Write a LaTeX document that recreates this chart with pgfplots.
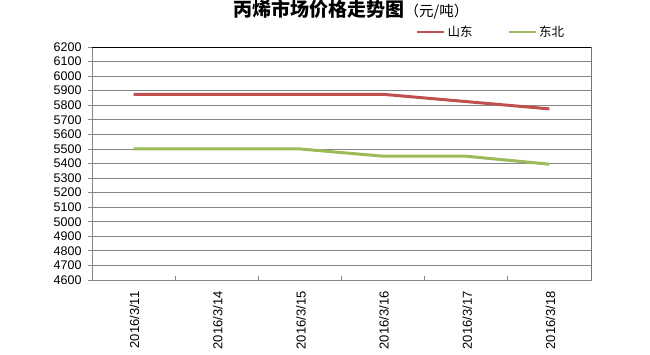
\documentclass[border=0pt]{standalone}
\usepackage{fontspec}
\setmainfont{Liberation Sans}
\newfontfamily\cjk{Noto Sans CJK SC}
\usepackage{pgfplots}
\pgfplotsset{compat=1.18}
\definecolor{sdred}{HTML}{C0504D}
\definecolor{dbgreen}{HTML}{9BBB59}
\definecolor{gridgray}{HTML}{868686}
\begin{document}
\begin{tikzpicture}[x=1pt,y=1pt]
\path[use as bounding box] (0,0) rectangle (650,355);
\begin{axis}[
  at={(92pt,75pt)}, anchor=south west,
  scale only axis, width=499pt, height=233pt,
  xmin=-0.5, xmax=5.5, ymin=4600, ymax=6200,
  xtick={-0.5,0.5,...,5.5}, xticklabels={},
  extra x ticks={0,1,2,3,4,5},
  extra x tick labels={2016/3/11,2016/3/14,2016/3/15,2016/3/16,2016/3/17,2016/3/18},
  extra x tick style={major tick length=0pt, xticklabel style={rotate=90, anchor=east, xshift=-8pt, yshift=-1pt, font=\fontsize{13}{15}\selectfont}},
  ytick={4600,4700,...,6200},
  xtick pos=bottom, ytick pos=left,
  xtick align=inside, ytick align=outside,
  major tick length=4pt,
  tick style={gridgray, line width=0.8pt},
  axis line style={gridgray, line width=0.8pt},
  ymajorgrids, major grid style={gridgray, line width=0.8pt},
  /pgf/number format/assume math mode=true,
  /pgf/number format/1000 sep={},
  yticklabel style={font=\fontsize{12.5}{14}\selectfont, xshift=-3pt},
  legend columns=2,
  legend style={draw=none, fill=none, at={(0.8,1.064)}, anchor=center,
    font=\cjk\fontsize{12.5}{14}\selectfont,
    /tikz/every even column/.append style={column sep=33pt}},
  legend image code/.code={\draw[#1, line width=2.5pt] (0pt,0pt) -- (27pt,0pt);},
]
\addplot[sdred, line width=3pt, line join=round] coordinates {(0,5875)(1,5875)(2,5875)(3,5875)(4,5825)(5,5775)};
\addlegendentry{山东}
\addplot[dbgreen, line width=3pt, line join=round] coordinates {(0,5500)(1,5500)(2,5500)(3,5450)(4,5450)(5,5395)};
\addlegendentry{东北}
\draw[black, line width=0.8pt] (rel axis cs:0,1) -- (rel axis cs:1,1) -- (rel axis cs:1,0);
\end{axis}
\node[font=\cjk\fontsize{19}{22}\selectfont] at (351,345) {{\bfseries 丙烯市场价格走势图}{\fontsize{14.5}{16}\selectfont （元/吨）}};
\end{tikzpicture}
\end{document}
